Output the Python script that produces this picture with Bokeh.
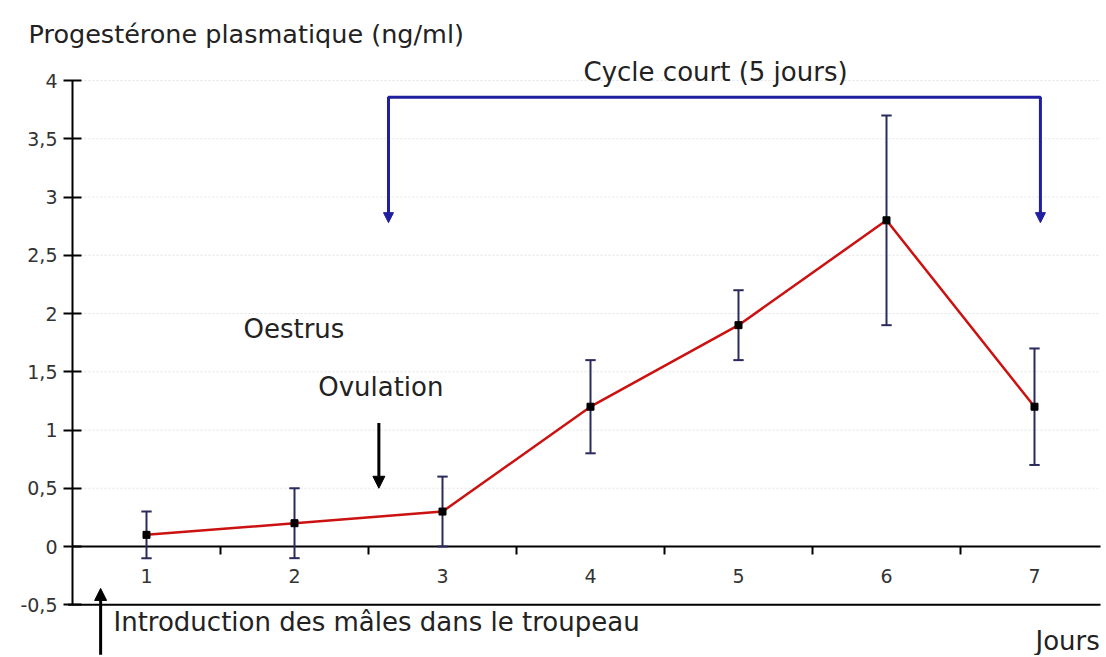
from bokeh.plotting import figure
from bokeh.models import Range1d, FixedTicker, Label, Arrow, NormalHead, ColumnDataSource
from bokeh.embed import file_html
from bokeh.resources import INLINE

# ---- data ----
days = [1, 2, 3, 4, 5, 6, 7]
progesterone = [0.1, 0.2, 0.3, 1.2, 1.9, 2.8, 1.2]
err_upper = [0.3, 0.5, 0.6, 1.6, 2.2, 3.7, 1.7]
err_lower = [-0.1, -0.1, 0.0, 0.8, 1.6, 1.9, 0.7]
y_ticks = [-0.5, 0, 0.5, 1, 1.5, 2, 2.5, 3, 3.5, 4]
y_tick_labels = ["-0,5", "0", "0,5", "1", "1,5", "2", "2,5", "3", "3,5", "4"]
x_minor = [1.5, 2.5, 3.5, 4.5, 5.5, 6.5, 7.5]

# axes extents and annotation positions (data units)
x_axis_start, x_axis_end = 0.5, 7.446
y_axis_start, y_axis_end = -0.5, 4.0
cycle_start, cycle_end = 2.635, 7.04
cycle_top, cycle_bottom = 3.857, 2.78

FONT = "DejaVu Sans"
TXT = "#222222"

p = figure(width=1104, height=655, output_backend="svg", toolbar_location=None,
           x_range=Range1d(0.0135, 7.473), y_range=Range1d(-0.9356, 4.687),
           min_border=0)
p.outline_line_color = None
p.background_fill_color = "white"
p.border_fill_color = "white"
p.xgrid.visible = False
p.ygrid.visible = False

# faint dotted grid
grid_y = [t for t in y_ticks if t > 0]
p.segment(x0=[x_axis_start] * len(grid_y), x1=[x_axis_end] * len(grid_y), y0=grid_y, y1=grid_y,
          line_color="#e4e4e4", line_dash="2 2", line_width=1)

# y axis at x = 0.5
p.yaxis.fixed_location = x_axis_start
p.yaxis.ticker = FixedTicker(ticks=y_ticks)
p.yaxis.major_label_overrides = {t: l for t, l in zip(y_ticks, y_tick_labels)}
p.yaxis.axis_line_color = None
p.yaxis.major_tick_in = 9
p.yaxis.major_tick_out = 9
p.yaxis.major_tick_line_width = 2
p.yaxis.major_tick_line_color = "black"
p.yaxis.minor_tick_line_color = None
p.yaxis.major_label_text_font = FONT
p.yaxis.major_label_text_font_size = "19px"
p.yaxis.major_label_text_color = "#333333"
p.yaxis.major_label_standoff = 6

# x axis at y = 0
p.xaxis.fixed_location = 0
p.xaxis.ticker = FixedTicker(ticks=days, minor_ticks=x_minor)
p.xaxis.axis_line_color = None
p.xaxis.major_tick_in = 0
p.xaxis.major_tick_out = 0
p.xaxis.minor_tick_in = 0
p.xaxis.minor_tick_out = 8
p.xaxis.minor_tick_line_width = 2
p.xaxis.minor_tick_line_color = "black"
p.xaxis.major_label_text_font = FONT
p.xaxis.major_label_text_font_size = "19px"
p.xaxis.major_label_text_color = "#333333"
p.xaxis.major_label_standoff = 14

# axis lines
p.segment(x0=[x_axis_start, x_axis_start, x_axis_start - 0.03],
          x1=[x_axis_start, x_axis_end, x_axis_end],
          y0=[y_axis_start, 0, y_axis_start], y1=[y_axis_end, 0, y_axis_start],
          line_color="black", line_width=2)

src = ColumnDataSource(dict(x=days, y=progesterone, upper=err_upper, lower=err_lower))

# error bars
EB = "#2a2a5c"
p.segment(x0="x", x1="x", y0="lower", y1="upper", source=src, line_color=EB, line_width=2)
w = 0.035
p.segment(x0=[d - w for d in days], x1=[d + w for d in days], y0=err_upper, y1=err_upper,
          line_color=EB, line_width=2)
p.segment(x0=[d - w for d in days], x1=[d + w for d in days], y0=err_lower, y1=err_lower,
          line_color=EB, line_width=2)

# line and markers
p.line("x", "y", source=src, line_color="#cc1111", line_width=2.5)
p.scatter("x", "y", source=src, marker="square", size=7, fill_color="black", line_color="black")

# blue bracket
BLUE = "#1f1f9f"
p.line([cycle_start, cycle_start, cycle_end, cycle_end],
       [cycle_bottom + 0.05, cycle_top, cycle_top, cycle_bottom + 0.05],
       line_color=BLUE, line_width=3)
for xx in (cycle_start, cycle_end):
    p.add_layout(Arrow(x_start=xx, y_start=cycle_bottom + 0.1, x_end=xx, y_end=cycle_bottom,
                       line_color=BLUE, line_width=3,
                       end=NormalHead(size=10, fill_color=BLUE, line_color=BLUE)))

# ovulation arrow
p.add_layout(Arrow(x_start=2.57, y_start=1.06, x_end=2.57, y_end=0.5,
                   line_color="black", line_width=3,
                   end=NormalHead(size=12, fill_color="black", line_color="black")))
# introduction arrow
p.add_layout(Arrow(x_start=0.69, y_start=-0.93, x_end=0.69, y_end=-0.36,
                   line_color="black", line_width=3,
                   end=NormalHead(size=12, fill_color="black", line_color="black")))

def lab(x, y, text, align="left", size="26px"):
    p.add_layout(Label(x=x, y=y, text=text, text_font=FONT, text_font_size=size,
                       text_color=TXT, text_baseline="middle", text_align=align))

lab(0.203, 4.40, "Progestérone plasmatique (ng/ml)", size="25.5px")
lab(4.845, 4.07, "Cycle court (5 jours)", align="center")
lab(1.655, 1.87, "Oestrus")
lab(2.16, 1.37, "Ovulation")
lab(0.777, -0.65, "Introduction des mâles dans le troupeau")
lab(7.007, -0.81, "Jours")

open("out.html", "w").write(file_html(p, INLINE))
